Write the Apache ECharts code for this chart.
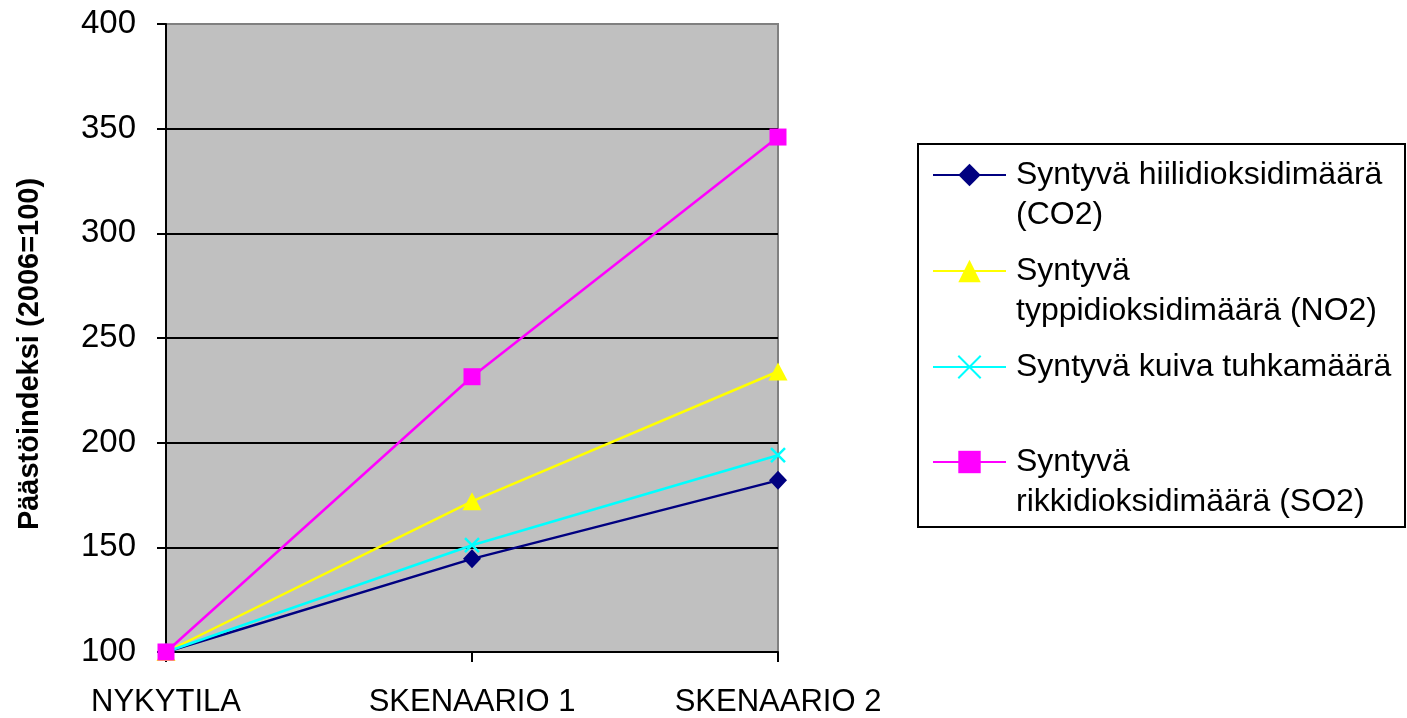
<!DOCTYPE html>
<html>
<head>
<meta charset="utf-8">
<script src="https://cdn.jsdelivr.net/npm/echarts@6/dist/echarts.min.js"></script>
<style>
  html, body { margin: 0; padding: 0; background: #ffffff; }
  #chart { width: 1407px; height: 718px; }
</style>
</head>
<body>
<div id="chart"></div>
<script>
// Emission index per scenario (2006 = 100)
const categories = ['NYKYTILA', 'SKENAARIO 1', 'SKENAARIO 2'];
const co2Values = [100, 144.5, 182];
const no2Values = [100, 172, 234];
const ashValues = [100, 151, 194];
const so2Values = [100, 231.5, 346];
const yTicks = [100, 150, 200, 250, 300, 350, 400];

const seriesNames = [
  'Syntyvä hiilidioksidimäärä (CO2)',
  'Syntyvä typpidioksidimäärä (NO2)',
  'Syntyvä kuiva tuhkamäärä',
  'Syntyvä rikkidioksidimäärä (SO2)'
];
// Legend entries wrapped over two lines; the leading empty line keeps the
// symbol level with the first line of the text block
const legendText = {
  'Syntyvä hiilidioksidimäärä (CO2)': '\nSyntyvä hiilidioksidimäärä\n(CO2)',
  'Syntyvä typpidioksidimäärä (NO2)': '\nSyntyvä\ntyppidioksidimäärä (NO2)',
  'Syntyvä kuiva tuhkamäärä': 'Syntyvä kuiva tuhkamäärä',
  'Syntyvä rikkidioksidimäärä (SO2)': '\nSyntyvä\nrikkidioksidimäärä (SO2)'
};

const FONT = 'Liberation Sans, Arial, sans-serif';
const LH = 40;

const chart = echarts.init(document.getElementById('chart'), null, { renderer: 'canvas' });

function legendFor(name, centerY, twoLines) {
  return {
    data: [name],
    orient: 'vertical',
    left: 932,
    top: centerY - (twoLines ? LH * 1.5 : LH * 0.5),
    padding: 0,
    itemWidth: 73,
    itemHeight: 28,
    selectedMode: false,
    formatter: function (n) { return legendText[n]; },
    textStyle: {
      fontFamily: FONT,
      fontSize: 32,
      lineHeight: LH,
      color: '#000',
      padding: [0, 0, 0, 5]
    }
  };
}

const option = {
  backgroundColor: '#ffffff',
  animation: false,
  grid: {
    left: 166,
    right: 629,
    top: 24,
    bottom: 64,
    show: true,
    backgroundColor: '#c0c0c0',
    borderColor: '#808080',
    borderWidth: 2
  },
  legend: [
    legendFor(seriesNames[0], 175, true),
    legendFor(seriesNames[1], 271, true),
    legendFor(seriesNames[2], 367, false),
    legendFor(seriesNames[3], 462, true)
  ],
  graphic: [{
    type: 'rect',
    shape: { x: 918, y: 144, width: 487, height: 383 },
    style: { fill: 'transparent', stroke: '#000', lineWidth: 2 },
    z: 0
  }],
  xAxis: {
    type: 'category',
    data: categories,
    boundaryGap: false,
    axisLine: { show: true, lineStyle: { color: '#000', width: 2 } },
    axisTick: { show: true, alignWithLabel: true, length: 10, lineStyle: { color: '#000', width: 2 } },
    axisLabel: { fontFamily: FONT, fontSize: 31, color: '#000', margin: 35 },
    splitLine: { show: false }
  },
  yAxis: {
    type: 'value',
    min: yTicks[0],
    max: yTicks[yTicks.length - 1],
    interval: 50,
    name: 'Päästöindeksi (2006=100)',
    nameLocation: 'middle',
    nameGap: 122,
    nameTextStyle: {
      fontFamily: FONT,
      fontSize: 29,
      fontWeight: 'bold',
      color: '#000',
      padding: [0, 32, 0, 0]
    },
    axisLine: { show: true, lineStyle: { color: '#000', width: 2 } },
    axisTick: { show: true, length: 9, lineStyle: { color: '#000', width: 2 } },
    axisLabel: { fontFamily: FONT, fontSize: 33, color: '#000', margin: 30 },
    splitLine: {
      show: true,
      lineStyle: { color: ['#000', '#000', '#000', '#000', '#000', '#000', '#808080'], width: 2 }
    }
  },
  series: [
    {
      name: seriesNames[0],
      type: 'line',
      data: co2Values,
      symbol: 'diamond',
      symbolSize: [18, 19],
      lineStyle: { color: '#000080', width: 2.5 },
      itemStyle: { color: '#000080' }
    },
    {
      name: seriesNames[1],
      type: 'line',
      data: no2Values,
      symbol: 'triangle',
      symbolSize: [19, 18],
      lineStyle: { color: '#ffff00', width: 2.5 },
      itemStyle: { color: '#ffff00' }
    },
    {
      name: seriesNames[2],
      type: 'line',
      data: ashValues,
      symbol: 'path://M0,0L10,10M10,0L0,10',
      symbolSize: 14,
      lineStyle: { color: '#00ffff', width: 2.5 },
      itemStyle: { color: '#00ffff', borderColor: '#00ffff', borderWidth: 2.5 }
    },
    {
      name: seriesNames[3],
      type: 'line',
      data: so2Values,
      symbol: 'rect',
      symbolSize: 17,
      lineStyle: { color: '#ff00ff', width: 2.5 },
      itemStyle: { color: '#ff00ff' }
    }
  ]
};

chart.setOption(option);
</script>
</body>
</html>
